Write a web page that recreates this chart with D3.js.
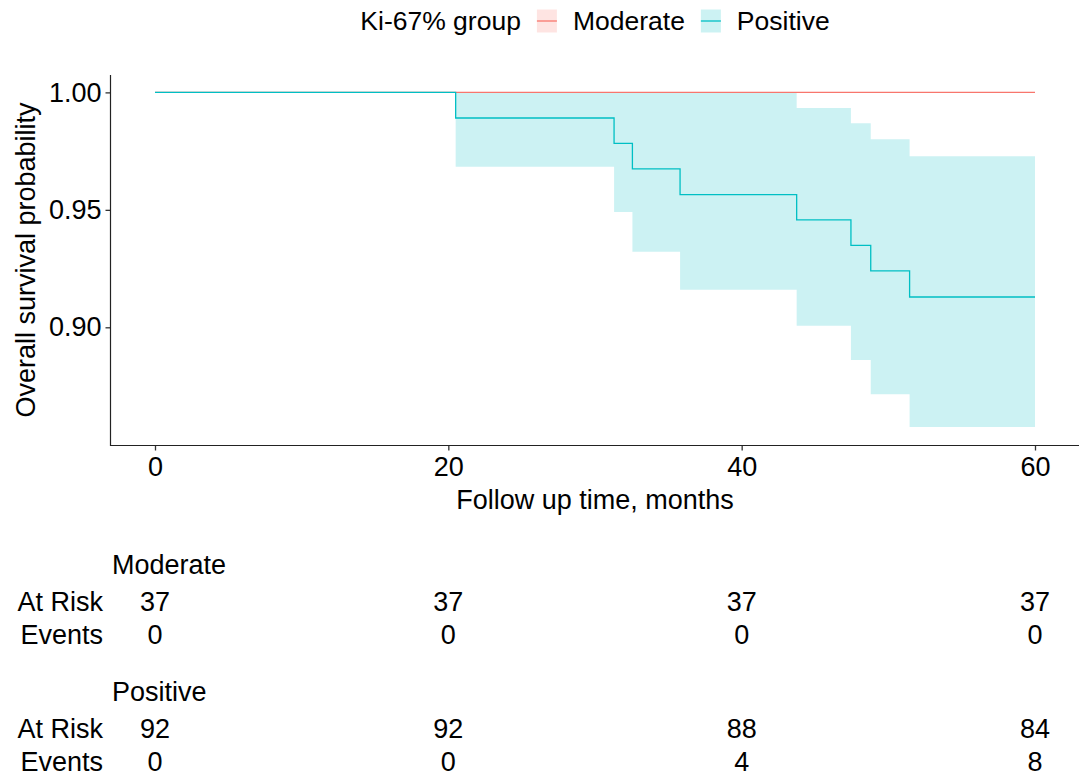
<!DOCTYPE html>
<html>
<head>
<meta charset="utf-8">
<script src="https://cdn.jsdelivr.net/npm/d3@7"></script>
<style>
  html, body { margin: 0; padding: 0; background: #fff; }
  svg text { font-family: "Liberation Sans", Arial, sans-serif; fill: #000; }
</style>
</head>
<body>
<div id="km"></div>
<script>
// ---- data ----
const groups = ["Moderate", "Positive"]
const groupColors = ["#F8766D", "#00BFC4"]

const moderateTime = [0, 60]
const moderateSurv = [1, 1]

const positiveTime  = [0, 20.5, 31.3, 32.55, 35.8, 43.75, 47.45, 48.8, 51.45, 60]
const positiveSurv  = [1, 0.9891, 0.9783, 0.9674, 0.9565, 0.9457, 0.9349, 0.9240, 0.9129, 0.9129]
const positiveUpper = [1, 1, 1, 1, 1, 0.9933, 0.9869, 0.9801, 0.9728, 0.9728]
const positiveLower = [1, 0.9683, 0.9491, 0.9322, 0.9160, 0.9007, 0.8861, 0.8715, 0.8576, 0.8576]

const xTicks = [0, 20, 40, 60]
const yTicks = [0.90, 0.95, 1.00]

const tableTimes = [0, 20, 40, 60]
const moderateAtRisk = [37, 37, 37, 37]
const moderateEvents = [0, 0, 0, 0]
const positiveAtRisk = [92, 92, 88, 84]
const positiveEvents = [0, 0, 4, 8]

// ---- layout ----
const w = 1079, h = 778
const fontSize = 27
const legendFont = 26.5
const plot = {left: 111, right: 1079, top: 75, bottom: 445}

const svg = d3.select("#km").append("svg")
    .attr("width", w)
    .attr("height", h)

const x = d3.scaleLinear().domain([-3, 63]).range([plot.left, plot.right])
const y = d3.scaleLinear().domain([0.8499, 1.0074]).range([plot.bottom, plot.top])

const zip = (t, s) => t.map((v, i) => ({t: v, s: s[i]}))

// confidence band
const band = d3.area()
    .curve(d3.curveStepAfter)
    .x(d => x(d.t))
    .y0(d => y(d.lo))
    .y1(d => y(d.hi))

svg.append("path")
    .datum(positiveTime.map((t, i) => ({t: t, lo: positiveLower[i], hi: positiveUpper[i]})))
    .attr("d", band)
    .attr("fill", groupColors[1])
    .attr("fill-opacity", 0.2)

// survival curves
const step = d3.line()
    .curve(d3.curveStepAfter)
    .x(d => x(d.t))
    .y(d => y(d.s))

const curves = [zip(moderateTime, moderateSurv), zip(positiveTime, positiveSurv)]
curves.forEach((c, i) => {
    svg.append("path")
        .datum(c)
        .attr("d", step)
        .attr("fill", "none")
        .attr("stroke", groupColors[i])
        .attr("stroke-width", 1.3)
})

// axes
const axisLeft = svg.append("g")
    .attr("transform", `translate(${plot.left - 0.5}, 0)`)
    .call(d3.axisLeft(y).tickValues(yTicks).tickFormat(d3.format(".2f")).tickSize(5).tickPadding(4))

const axisBottom = svg.append("g")
    .attr("transform", `translate(0, ${plot.bottom + 0.5})`)
    .call(d3.axisBottom(x).tickValues(xTicks).tickFormat(d3.format("d")).tickSize(5).tickPadding(6))

;[axisLeft, axisBottom].forEach(axis => {
    axis.select(".domain").remove()
    axis.selectAll("line").attr("stroke", "#333").attr("stroke-width", 1.3)
    axis.selectAll("text")
        .attr("fill", "#000")
        .style("font-size", fontSize + "px")
        .style("font-family", "Liberation Sans, Arial, sans-serif")
})
axisBottom.selectAll("text").attr("dy", "0.71em")

svg.append("line")
    .attr("x1", plot.left - 0.5).attr("x2", plot.left - 0.5)
    .attr("y1", plot.top).attr("y2", plot.bottom + 1)
    .attr("stroke", "#222").attr("stroke-width", 1.2)
svg.append("line")
    .attr("x1", plot.left - 1).attr("x2", plot.right)
    .attr("y1", plot.bottom + 0.5).attr("y2", plot.bottom + 0.5)
    .attr("stroke", "#222").attr("stroke-width", 1.2)

// axis titles
svg.append("text")
    .attr("transform", `translate(26, ${(plot.top + plot.bottom) / 2}) rotate(-90)`)
    .attr("text-anchor", "middle")
    .attr("dominant-baseline", "central")
    .style("font-size", fontSize + "px")
    .text("Overall survival probability")

svg.append("text")
    .attr("x", (plot.left + plot.right) / 2)
    .attr("y", 500)
    .attr("text-anchor", "middle")
    .attr("dominant-baseline", "central")
    .style("font-size", fontSize + "px")
    .text("Follow up time, months")

// legend
const legend = svg.append("g")
const legendY = 21
const keyW = 20, keyH = 23, gap = 16
const title = legend.append("text")
    .attr("y", legendY)
    .attr("dominant-baseline", "central")
    .style("font-size", legendFont + "px")
    .text("Ki-67% group")
let cursor = title.node().getComputedTextLength() + gap
groups.forEach((g, i) => {
    legend.append("rect")
        .attr("x", cursor).attr("y", legendY - keyH / 2)
        .attr("width", keyW).attr("height", keyH)
        .attr("fill", groupColors[i]).attr("fill-opacity", 0.2)
    legend.append("line")
        .attr("x1", cursor).attr("x2", cursor + keyW)
        .attr("y1", legendY).attr("y2", legendY)
        .attr("stroke", groupColors[i]).attr("stroke-width", 1.3)
    cursor += keyW + gap
    const lbl = legend.append("text")
        .attr("x", cursor).attr("y", legendY)
        .attr("dominant-baseline", "central")
        .style("font-size", legendFont + "px")
        .text(g)
    cursor += lbl.node().getComputedTextLength() + gap
})
cursor -= gap
legend.attr("transform", `translate(${(plot.left + plot.right) / 2 - cursor / 2}, 0)`)

// risk table
const tables = [
    {name: groups[0], atRisk: moderateAtRisk, events: moderateEvents, top: 565},
    {name: groups[1], atRisk: positiveAtRisk, events: positiveEvents, top: 692}
]
const table = svg.append("g")
tables.forEach(tb => {
    table.append("text")
        .attr("x", plot.left + 1).attr("y", tb.top)
        .attr("dominant-baseline", "central")
        .style("font-size", fontSize + "px")
        .text(tb.name)

    const rows = [["At Risk", tb.atRisk, tb.top + 37], ["Events", tb.events, tb.top + 70]]
    rows.forEach(([label, vals, ry]) => {
        table.append("text")
            .attr("x", 103).attr("y", ry)
            .attr("text-anchor", "end")
            .attr("dominant-baseline", "central")
            .style("font-size", fontSize + "px")
            .text(label)
        table.selectAll(null)
            .data(tableTimes)
            .enter()
            .append("text")
            .attr("x", d => x(d))
            .attr("y", ry)
            .attr("text-anchor", "middle")
            .attr("dominant-baseline", "central")
            .style("font-size", fontSize + "px")
            .text((d, i) => vals[i])
    })
})
</script>
</body>
</html>
